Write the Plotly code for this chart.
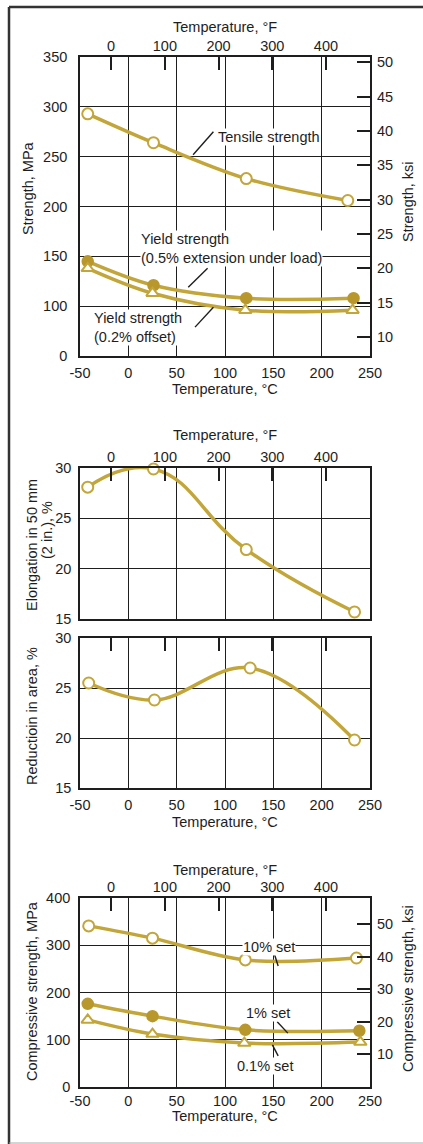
import plotly.graph_objects as go

# Figure size in pixels
W, H = 423, 1144

MPA_PER_KSI = 6.895


def c_to_f(c):
    return c * 9 / 5 + 32


# ---- Strength vs temperature ----
tensile_temp = [-42, 26, 122, 227]
tensile_mpa = [293, 264, 228, 206]
yield05_temp = [-42, 26, 122, 233]
yield05_mpa = [145, 121, 108, 108]
yield02_temp = [-42, 25, 121, 232]
yield02_mpa = [138, 113, 96, 96]

# ---- Elongation and reduction in area ----
elong_temp = [-42, 26, 122, 234]
elong_pct = [28.1, 29.9, 21.9, 15.7]
ra_temp = [-41, 27, 126, 234]
ra_pct = [25.5, 23.8, 27.0, 19.8]

# ---- Compressive strength ----
set10_temp = [-41, 25, 121, 236]
set10_mpa = [341, 315, 269, 273]
set1_temp = [-42, 25, 121, 239]
set1_mpa = [176, 150, 121, 119]
set01_temp = [-42, 25, 120, 240]
set01_mpa = [142, 112, 93, 95]

# Axis ticks
c_ticks = [-50, 0, 50, 100, 150, 200, 250]
c_ticktext = ["-50", "0", "50", "100", "150", "200", "250"]
f_ticks = [0, 100, 200, 300, 400]
strength_ticks = [50, 100, 150, 200, 250, 300, 350]
strength_ticktext = ["0", "100", "150", "200", "250", "300", "350"]
strength_ksi_ticks = [10, 15, 20, 25, 30, 35, 40, 45, 50]
pct_ticks = [15, 20, 25, 30]
comp_ticks = [0, 100, 200, 300, 400]
comp_ksi_ticks = [10, 20, 30, 40, 50]

C_RANGE = [-50, 250]
F_RANGE = [c_to_f(C_RANGE[0]), c_to_f(C_RANGE[1])]

LINE = "#c2a63a"
FILL = "#b8972c"
INK = "#1e1e1e"
FONT = "Liberation Sans, Arial, Helvetica, sans-serif"
FS = 14.5


def px_x(px):
    return px / W


def px_y(py):
    return 1 - py / H


# plot boxes in pixels (left, right, top, bottom)
boxes = {
    1: (80, 370, 57, 356),
    2: (80, 370, 468, 619),
    3: (80, 370, 638, 788),
    4: (80, 370, 898, 1087),
}

fig = go.Figure()


def series(x, y, xa, ya, kind, smoothing=1.0):
    if kind == "open":
        marker = dict(symbol="circle", size=11, color="white", line=dict(color=LINE, width=2))
    elif kind == "filled":
        marker = dict(symbol="circle", size=11, color=FILL, line=dict(color=FILL, width=1.5))
    else:
        marker = dict(symbol="triangle-up", size=11, color="white", line=dict(color=LINE, width=2))
    fig.add_trace(go.Scatter(
        x=x, y=y, xaxis=xa, yaxis=ya, mode="lines+markers",
        line=dict(color=LINE, width=3.5, shape="spline", smoothing=smoothing),
        marker=marker, showlegend=False, hoverinfo="skip", cliponaxis=False,
    ))


# Panel 1
series(tensile_temp, tensile_mpa, "x", "y", "open")
series(yield05_temp, yield05_mpa, "x", "y", "filled")
series(yield02_temp, yield02_mpa, "x", "y", "tri")
# Panel 2
series(elong_temp, elong_pct, "x3", "y3", "open", 1.3)
# Panel 3
series(ra_temp, ra_pct, "x5", "y5", "open", 1.1)
# Panel 4
series(set10_temp, set10_mpa, "x7", "y7", "open")
series(set1_temp, set1_mpa, "x7", "y7", "filled")
series(set01_temp, set01_mpa, "x7", "y7", "tri")

# anchor traces for secondary axes (no visible content)
for xa, ya in [("x2", "y"), ("x", "y2"), ("x4", "y3"), ("x6", "y5"), ("x8", "y7"), ("x7", "y8")]:
    fig.add_trace(go.Scatter(x=[None], y=[None], xaxis=xa, yaxis=ya, showlegend=False,
                             hoverinfo="skip", mode="lines"))

tickfont = dict(family=FONT, size=FS, color=INK)
grid = dict(showgrid=True, gridcolor=INK, gridwidth=1.4, zeroline=False,
            showline=True, linecolor=INK, linewidth=1.6, mirror=True, ticks="",
            automargin=False)


def c_axis(box, anchor, labels=True, standoff=3):
    l, r, t, b = box
    return dict(domain=[px_x(l), px_x(r)], anchor=anchor, range=C_RANGE,
                tickvals=c_ticks, ticktext=c_ticktext, showticklabels=labels,
                tickfont=tickfont, ticklabelstandoff=standoff, **grid)


def f_axis(over, anchor, labels=True):
    return dict(overlaying=over, anchor=anchor, side="top", range=F_RANGE,
                tickvals=f_ticks, ticks="inside", ticklen=13, tickwidth=2, tickcolor=INK,
                showgrid=False, zeroline=False, showline=False, automargin=False,
                showticklabels=labels, tickfont=tickfont, ticklabelstandoff=2)


def y_axis(box, anchor, rng, vals, text=None, standoff=6):
    l, r, t, b = box
    d = dict(domain=[px_y(b), px_y(t)], anchor=anchor, range=rng, tickvals=vals,
             tickfont=tickfont, ticklabelstandoff=standoff, **grid)
    if text is not None:
        d["ticktext"] = text
    return d


def ksi_axis(over, anchor, rng, vals):
    return dict(overlaying=over, anchor=anchor, side="right",
                range=[rng[0] / MPA_PER_KSI, rng[1] / MPA_PER_KSI], tickvals=vals,
                ticks="inside", ticklen=13, tickwidth=2, tickcolor=INK,
                showgrid=False, zeroline=False, showline=False, automargin=False,
                tickfont=tickfont, ticklabelstandoff=6)


strength_range = [50, 350]
comp_range = [0, 400]

fig.update_layout(
    xaxis=c_axis(boxes[1], "y", standoff=3),
    xaxis2=f_axis("x", "y"),
    yaxis=y_axis(boxes[1], "x", strength_range, strength_ticks, strength_ticktext, 8),
    yaxis2=ksi_axis("y", "x", strength_range, strength_ksi_ticks),
    xaxis3=c_axis(boxes[2], "y3", labels=False),
    xaxis4=f_axis("x3", "y3"),
    yaxis3=y_axis(boxes[2], "x3", [15, 30], pct_ticks, None, 4),
    xaxis5=c_axis(boxes[3], "y5", standoff=3),
    xaxis6=f_axis("x5", "y5", labels=False),
    yaxis5=y_axis(boxes[3], "x5", [15, 30], pct_ticks, None, 4),
    xaxis7=c_axis(boxes[4], "y7", standoff=0),
    xaxis8=f_axis("x7", "y7"),
    yaxis7=y_axis(boxes[4], "x7", comp_range, comp_ticks, None, 5),
    yaxis8=ksi_axis("y7", "x7", comp_range, comp_ksi_ticks),
)

ann = []


def ptext(text, x, y, angle=0, xanchor="center", size=FS):
    ann.append(dict(text=text, x=px_x(x), y=px_y(y), xref="paper", yref="paper",
                    showarrow=False, textangle=angle, xanchor=xanchor, yanchor="middle",
                    font=dict(family=FONT, size=size, color=INK)))


def dtext(text, x, y, xa, ya, xanchor="center", align="center"):
    ann.append(dict(text=text, x=x, y=y, xref=xa, yref=ya, showarrow=False,
                    xanchor=xanchor, yanchor="middle", align=align,
                    bgcolor="white", borderpad=0,
                    font=dict(family=FONT, size=FS, color=INK)))


# axis titles
ptext("Temperature, °F", 225, 27)
ptext("Temperature, °C", 225, 389)
ptext("Strength, MPa", 28, 188, -90)
ptext("Strength, ksi", 408, 202, -90)

ptext("Temperature, °F", 225, 435)
ptext("Elongation in 50 mm", 32, 545, -90)
ptext("(2 in.), %", 47, 530, -90)
ptext("Reductioin in area, %", 32, 716, -90)
ptext("Temperature, °C", 225, 822)

ptext("Temperature, °F", 225, 870)
ptext("Compressive strength, MPa", 32, 991, -90)
ptext("Compressive strength, ksi", 408, 989, -90)
ptext("Temperature, °C", 225, 1116)

# curve labels
dtext("Tensile strength", 92, 270, "x", "y", xanchor="left")
dtext("Yield strength<br>(0.5% extension under load)", 12, 158, "x", "y", xanchor="left", align="left")
dtext("Yield strength<br>(0.2% offset)", -37, 79, "x", "y", xanchor="left", align="left")
dtext("10% set", 145, 296, "x7", "y7")
dtext("1% set", 144, 157, "x7", "y7")
dtext("0.1% set", 141, 44, "x7", "y7")

shapes = []


def leader(x0, y0, x1, y1, xa, ya):
    shapes.append(dict(type="line", x0=x0, y0=y0, x1=x1, y1=y1, xref=xa, yref=ya,
                       line=dict(color=INK, width=1.4)))


leader(88, 275, 67, 252, "x", "y")
leader(82, 138, 62, 119, "x", "y")
leader(69, 79, 88, 99, "x", "y")
leader(151, 282, 155, 256, "x7", "y7")
leader(154, 138, 165, 114, "x7", "y7")
leader(149, 89, 155, 66, "x7", "y7")

# outer frame
shapes.append(dict(type="line", xref="paper", yref="paper", x0=px_x(9), x1=1,
                   y0=px_y(7), y1=px_y(7), line=dict(color="#333333", width=2.5)))
shapes.append(dict(type="line", xref="paper", yref="paper", x0=px_x(9), x1=px_x(9),
                   y0=px_y(7), y1=0, line=dict(color="#333333", width=2.5)))
shapes.append(dict(type="line", xref="paper", yref="paper", x0=px_x(9), x1=1,
                   y0=px_y(1143), y1=px_y(1143), line=dict(color="#aaaaaa", width=1)))

fig.update_layout(
    width=W, height=H,
    margin=dict(l=0, r=0, t=0, b=0, pad=0, autoexpand=False),
    paper_bgcolor="white", plot_bgcolor="white",
    annotations=ann, shapes=shapes, showlegend=False,
    font=dict(family=FONT, size=FS, color=INK),
)

fig.write_html("out.html")
